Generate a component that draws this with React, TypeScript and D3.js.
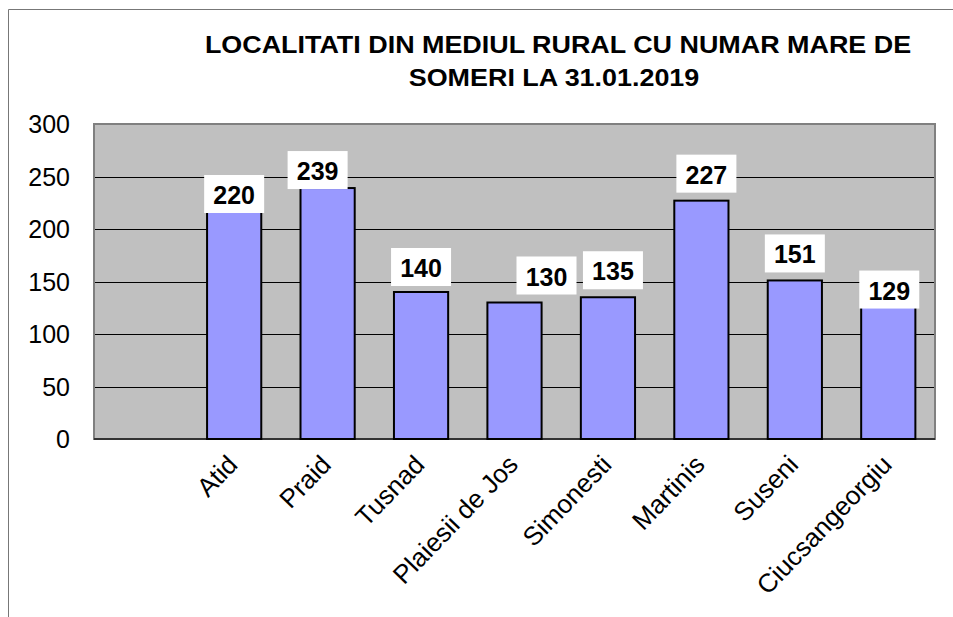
import React from "react";
import * as d3 from "d3";

// first slot is empty in the original sheet
const categories = ["", "Atid", "Praid", "Tusnad", "Plaiesii de Jos", "Simonesti", "Martinis", "Suseni", "Ciucsangeorgiu"];
const values: (number | null)[] = [null, 220, 239, 140, 130, 135, 227, 151, 129];
const yTicks = [0, 50, 100, 150, 200, 250, 300];
const titleLines = ["LOCALITATI DIN MEDIUL RURAL CU NUMAR MARE DE", "SOMERI LA 31.01.2019"];

// hand-moved data labels in the original (dx, dy in px)
const labelNudge: [number, number][] = [[0, 0], [0, 13], [-10, 9], [0, 2], [32, 0], [5, 0], [5, 0], [0, 0], [1, 13]];

const W = 953;
const H = 617;
const plot = { left: 94, right: 935, top: 124, bottom: 439 };
const font = "Arial, 'Liberation Sans', sans-serif";

const x = d3.scaleBand<string>()
  .domain(categories)
  .range([plot.left, plot.right])
  .paddingInner(0.42)
  .paddingOuter(0.21);

const y = d3.scaleLinear().domain([0, 300]).range([plot.bottom, plot.top]);

const App = () => {
  const bw = x.bandwidth();
  return (
    <svg width={W} height={H} style={{ position: "absolute", left: 0, top: 0, background: "#fff" }}>
      {/* outer frame (cropped on right/bottom) */}
      <path d={`M8.5,${H} V9.5 H${W}`} fill="none" stroke="#777" strokeWidth={1} />

      {titleLines.map((t, i) => (
        <text key={i} transform={`translate(${558 - i * 4},${53 + i * 33}) scale(1.17,1)`} textAnchor="middle"
          fontFamily={font} fontWeight="bold" fontSize={23}>{t}</text>
      ))}

      <rect x={plot.left} y={plot.top} width={plot.right - plot.left} height={plot.bottom - plot.top} fill="#c0c0c0" />
      {yTicks.filter(t => t > 0 && t < 300).map(t => (
        <line key={t} x1={plot.left} x2={plot.right} y1={Math.round(y(t)) + 0.5} y2={Math.round(y(t)) + 0.5} stroke="#000" />
      ))}
      <rect x={plot.left} y={plot.top} width={plot.right - plot.left} height={plot.bottom - plot.top}
        fill="none" stroke="#808080" strokeWidth={2} />
      <line x1={plot.left} x2={plot.right} y1={plot.bottom} y2={plot.bottom} stroke="#333" strokeWidth={2} />

      {yTicks.map(t => (
        <text key={t} x={70} y={y(t) + 9} textAnchor="end" fontFamily={font} fontSize={25}>{t}</text>
      ))}

      {categories.map((c, i) => {
        const v = values[i];
        if (v == null) return null;
        const x0 = x(c)!;
        const top = y(v);
        return (
          <rect key={c} x={x0} y={top} width={bw} height={plot.bottom - top}
            fill="#9999ff" stroke="#000" strokeWidth={2} />
        );
      })}

      {categories.map((c, i) => {
        const v = values[i];
        if (v == null) return null;
        const cx = x(c)! + bw / 2 + labelNudge[i][0];
        const bottom = y(v) - 8 + labelNudge[i][1];
        return (
          <g key={c}>
            <rect x={cx - 30} y={bottom - 38} width={60} height={38} fill="#fff" />
            <text x={cx} y={bottom - 9} textAnchor="middle" fontFamily={font} fontWeight="bold" fontSize={25}>{v}</text>
          </g>
        );
      })}

      {categories.map(c => c && (
        <text key={c} transform={`translate(${x(c)! + bw / 2 + 5},${plot.bottom + 27}) rotate(-46)`}
          textAnchor="end" fontFamily={font} fontSize={26}>{c}</text>
      ))}
    </svg>
  );
};

export default App;
